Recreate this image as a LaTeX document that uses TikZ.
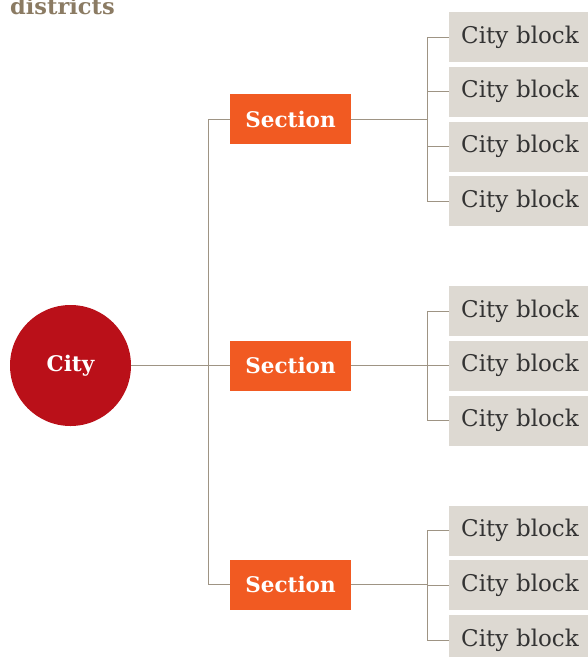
\documentclass[tikz,border=0pt]{standalone}
\usepackage{fontspec}
\setmainfont{DejaVu Serif}
\definecolor{cityred}{HTML}{BA1019}
\definecolor{secorange}{HTML}{F15A22}
\definecolor{blockgray}{HTML}{DDD9D2}
\definecolor{linecol}{HTML}{9E9484}
\definecolor{titlecol}{HTML}{8B7B63}
\definecolor{blocktext}{HTML}{333333}
\begin{document}
\begin{tikzpicture}[x=1pt,y=-1pt,
  citynode/.style={circle,fill=cityred,minimum size=121pt,inner sep=0pt,text=white,font=\bfseries\fontsize{21.5}{22}\selectfont},
  secnode/.style={rectangle,fill=secorange,minimum width=121pt,minimum height=50pt,inner sep=0pt,text=white,font=\bfseries\fontsize{21.5}{22}\selectfont},
  blocknode/.style={rectangle,fill=blockgray,text width=139pt,align=left,minimum height=50pt,inner sep=0pt,anchor=west,text=blocktext,font=\fontsize{23}{24}\selectfont},
  conn/.style={draw=linecol,line width=1pt}]
\useasboundingbox (0,0) rectangle (588,657);
\clip (0,0) rectangle (588,657);
\node[anchor=base west,inner sep=0pt,text=titlecol,font=\bfseries\fontsize{22.5}{23}\selectfont] (title) at (10,14) {districts};
\node[citynode] (city) at (70.5,365.5) {City};
\node[secnode] (s1) at (290.5,119) {Section};
\node[secnode] (s2) at (290.5,365.5) {Section};
\node[secnode] (s3) at (290.5,584.5) {Section};
\foreach \n/\y in {a1/37,a2/91.5,a3/146.5,a4/201,b1/311,b2/365.5,b3/420.5,c1/530.5,c2/585,c3/640}
  \node[blocknode] (\n) at (449,\y) {\hspace*{12pt}City block};
\coordinate (trunk) at (208,365.5);
\coordinate (col) at (427,0);
% city to sections
\draw[conn] (city.east) -- (s2.west);
\draw[conn] (s2.west) -- (trunk) |- (s1.west);
\draw[conn] (trunk) |- (s3.west);
% section 1 group
\draw[conn] (s1.east) -- (col |- s1.east);
\draw[conn] (a1.west) -| (col |- a1.west) |- (a4.west);
\draw[conn] (col |- a2.west) -- (a2.west);
\draw[conn] (col |- a3.west) -- (a3.west);
% section 2 group
\draw[conn] (s2.east) -- (b2.west);
\draw[conn] (b1.west) -- (col |- b1.west) -- (col |- b3.west) -- (b3.west);
% section 3 group
\draw[conn] (s3.east) -- (col |- s3.east);
\draw[conn] (c1.west) -- (col |- c1.west) -- (col |- c3.west) -- (c3.west);
\draw[conn] (col |- c2.west) -- (c2.west);
\end{tikzpicture}
\end{document}
